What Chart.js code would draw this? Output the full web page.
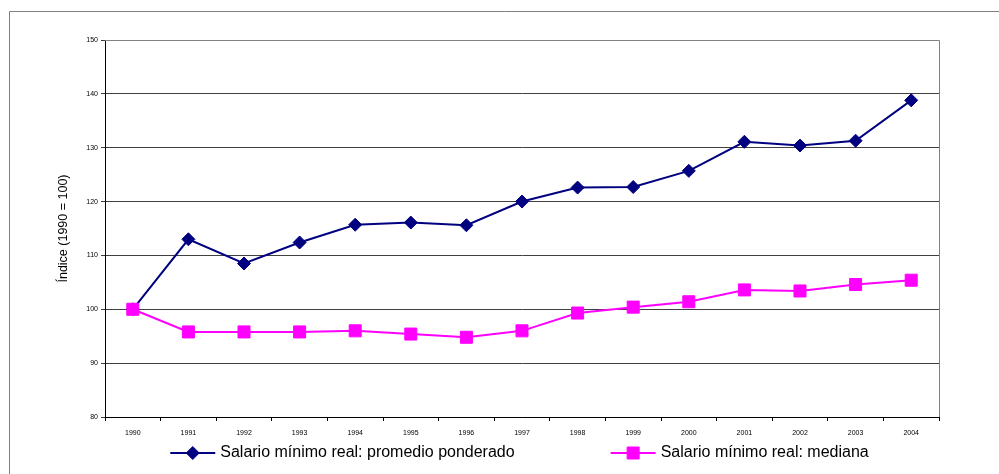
<!DOCTYPE html>
<html>
<head>
<meta charset="utf-8">
<script src="https://cdn.jsdelivr.net/npm/chart.js@4.4.1/dist/chart.umd.min.js"></script>
<style>
  html, body { margin: 0; padding: 0; background: #fff; }
  #wrap { position: relative; width: 999px; height: 474px; }
</style>
</head>
<body>
<div id="wrap"><canvas id="c" width="999" height="474"></canvas></div>
<script>
const years = ['1990','1991','1992','1993','1994','1995','1996','1997','1998','1999','2000','2001','2002','2003','2004'];
const promedioPonderado = [100, 113.0, 108.5, 112.4, 115.7, 116.1, 115.6, 120.0, 122.6, 122.7, 125.7, 131.1, 130.4, 131.3, 138.8];
const mediana = [100, 95.8, 95.8, 95.8, 96.0, 95.4, 94.8, 96.0, 99.3, 100.4, 101.4, 103.6, 103.4, 104.6, 105.4];
const seriesNames = ['Salario mínimo real: promedio ponderado', 'Salario mínimo real: mediana'];
const yTitle = 'Índice (1990 = 100)';
const yMin = 80, yMax = 150, yStep = 10;

const FONT = '"Liberation Sans", Arial, sans-serif';

const framePlugin = {
  id: 'frame',
  beforeDraw(chart) {
    const ctx = chart.ctx;
    ctx.save();
    ctx.strokeStyle = '#808080';
    ctx.lineWidth = 1;
    ctx.beginPath();
    ctx.moveTo(9.5, chart.height);
    ctx.lineTo(9.5, 11.5);
    ctx.lineTo(chart.width, 11.5);
    ctx.stroke();
    ctx.restore();
  },
  beforeDatasetsDraw(chart) {
    const ctx = chart.ctx, a = chart.chartArea;
    ctx.save();
    ctx.strokeStyle = '#808080';
    ctx.lineWidth = 1;
    ctx.beginPath();
    ctx.moveTo(a.left, Math.round(a.top) + 0.5);
    ctx.lineTo(Math.round(a.right) + 0.5, Math.round(a.top) + 0.5);
    ctx.lineTo(Math.round(a.right) + 0.5, a.bottom);
    ctx.stroke();
    ctx.restore();
  }
};

const legendPlugin = {
  id: 'customLegend',
  afterDraw(chart) {
    const ctx = chart.ctx, a = chart.chartArea;
    ctx.save();
    const font = '16px ' + FONT;
    ctx.font = font;
    const lineLen = 45, gapText = 5, gapItems = 96;
    const items = chart.data.datasets.map(ds => ({ ds, w: lineLen + gapText + ctx.measureText(ds.label).width }));
    const total = items.reduce((s, it) => s + it.w, 0) + gapItems * (items.length - 1);
    let x = (a.left + a.right) / 2 - 2.5 - total / 2;
    const y = 453;
    items.forEach(it => {
      const ds = it.ds;
      ctx.strokeStyle = ds.borderColor;
      ctx.lineWidth = ds.borderWidth;
      ctx.beginPath();
      ctx.moveTo(x, y);
      ctx.lineTo(x + lineLen, y);
      ctx.stroke();
      ctx.fillStyle = ds.pointBackgroundColor;
      ctx.strokeStyle = ds.pointBorderColor;
      ctx.lineWidth = ds.pointBorderWidth;
      Chart.helpers.drawPoint(ctx, {
        pointStyle: ds.pointStyle,
        radius: ds.pointRadius,
        borderWidth: ds.pointBorderWidth,
        rotation: 0
      }, x + lineLen / 2, y);
      ctx.font = font;
      ctx.fillStyle = '#000';
      ctx.textBaseline = 'middle';
      ctx.textAlign = 'left';
      ctx.fillText(ds.label, x + lineLen + gapText, y);
      x += it.w + gapItems;
    });
    ctx.restore();
  }
};

new Chart(document.getElementById('c'), {
  type: 'line',
  data: {
    labels: years,
    datasets: [
      {
        label: seriesNames[0],
        data: promedioPonderado,
        order: 2,
        borderColor: '#000080',
        backgroundColor: '#000080',
        borderWidth: 2,
        pointStyle: 'rectRot',
        pointRadius: 6.5,
        pointBorderWidth: 1,
        pointBackgroundColor: '#000080',
        pointBorderColor: '#000080',
        tension: 0
      },
      {
        label: seriesNames[1],
        data: mediana,
        order: 1,
        borderColor: '#FF00FF',
        backgroundColor: '#FF00FF',
        borderWidth: 2,
        pointStyle: 'rect',
        pointRadius: 8.5,
        pointBorderWidth: 1,
        pointBackgroundColor: '#FF00FF',
        pointBorderColor: '#FF00FF',
        tension: 0
      }
    ]
  },
  options: {
    responsive: false,
    animation: false,
    devicePixelRatio: 1,
    layout: { padding: { left: 50, top: 40, right: 60, bottom: 37 } },
    plugins: {
      legend: { display: false },
      tooltip: { enabled: false }
    },
    scales: {
      x: {
        type: 'category',
        offset: true,
        afterFit(scale) { scale.height = 20; },
        grid: { offset: true, drawOnChartArea: false, drawTicks: true, tickLength: 4, color: '#000' },
        border: { color: '#000', width: 1 },
        ticks: { font: { family: FONT, size: 7 }, color: '#000', padding: 8, maxRotation: 0, autoSkip: false }
      },
      y: {
        min: yMin,
        max: yMax,
        afterFit(scale) { scale.width = 55; },
        ticks: { stepSize: yStep, font: { family: FONT, size: 7 }, color: '#000', padding: 3 },
        grid: { color: '#404040', lineWidth: 1, tickLength: 4 },
        border: { color: '#000', width: 1 },
        title: { display: true, text: yTitle, font: { family: FONT, size: 12.5 }, color: '#000', padding: { top: 6, bottom: 0 } }
      }
    }
  },
  plugins: [framePlugin, legendPlugin]
});
</script>
</body>
</html>
